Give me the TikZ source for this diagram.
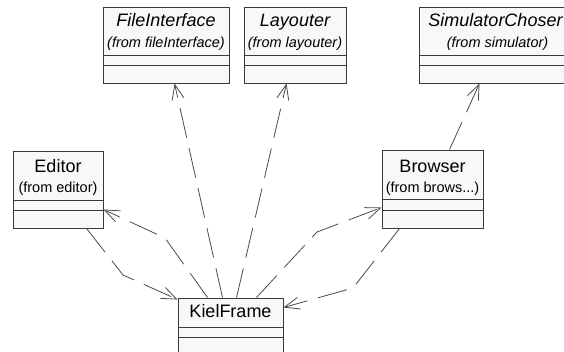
\documentclass[tikz,border=0pt]{standalone}
\usepackage{fontspec}
\setmainfont{Liberation Sans}
\usetikzlibrary{arrows.meta,calc}

\definecolor{boxfill}{HTML}{F8F8F8}
\definecolor{boxline}{HTML}{3A3A3A}
\definecolor{depline}{HTML}{4A4A4A}

\tikzset{
  classbox/.style={draw=boxline, fill=boxfill, line width=0.95pt, rectangle, inner sep=0pt},
  compline/.style={draw=boxline, line width=0.8pt},
  cname/.style={anchor=base, inner sep=0pt, font=\fontsize{18}{21}\selectfont},
  cnameit/.style={cname, font=\fontsize{18}{21}\selectfont\itshape},
  cfrom/.style={anchor=base, inner sep=0pt, font=\fontsize{14.5}{17}\selectfont},
  cfromit/.style={cfrom, font=\fontsize{14.5}{17}\selectfont\itshape},
  dep/.style={draw=depline, line width=0.8pt, dash pattern=on 30pt off 11pt,
    -{Straight Barb[length=15pt,width=12pt,line width=0.8pt]}}
}

\begin{document}
\begin{tikzpicture}[x=1pt, y=-1pt]
\useasboundingbox (0,0) rectangle (564,352);
\clip (0,0) rectangle (564,352);

% ---- classes (from other packages) ----
\node[classbox, minimum width=126pt, minimum height=76pt] (fileint) at (166,45) {};
\node[cnameit] (fileint-n) at ($(fileint.north)+(0,20)$) {FileInterface};
\node[cfromit] (fileint-p) at ($(fileint.north)+(0,41)$) {(from fileInterface)};
\draw[compline] ($(fileint.north west)+(0,49)$) -- ($(fileint.north east)+(0,49)$);
\draw[compline] ($(fileint.north west)+(0,59)$) -- ($(fileint.north east)+(0,59)$);

\node[classbox, minimum width=102pt, minimum height=76pt] (layouter) at (295,45) {};
\node[cnameit] (layouter-n) at ($(layouter.north)+(0,20)$) {Layouter};
\node[cfromit] (layouter-p) at ($(layouter.north)+(0,41)$) {(from layouter)};
\draw[compline] ($(layouter.north west)+(0,49)$) -- ($(layouter.north east)+(0,49)$);
\draw[compline] ($(layouter.north west)+(0,59)$) -- ($(layouter.north east)+(0,59)$);

\node[classbox, minimum width=157pt, minimum height=76pt] (simch) at (497.5,45) {};
\node[cnameit] (simch-n) at ($(simch.north)+(-2,20)$) {SimulatorChoser};
\node[cfromit] (simch-p) at ($(simch.north)+(0,41)$) {(from simulator)};
\draw[compline] ($(simch.north west)+(0,49)$) -- ($(simch.north east)+(0,49)$);
\draw[compline] ($(simch.north west)+(0,59)$) -- ($(simch.north east)+(0,59)$);

\node[classbox, minimum width=90pt, minimum height=77pt] (editor) at (58,189.5) {};
\node[cname] (editor-n) at ($(editor.north)+(0,22)$) {Editor};
\node[cfrom] (editor-p) at ($(editor.north)+(0,42)$) {(from editor)};
\draw[compline] ($(editor.north west)+(0,50)$) -- ($(editor.north east)+(0,50)$);
\draw[compline] ($(editor.north west)+(0,60)$) -- ($(editor.north east)+(0,60)$);

\node[classbox, minimum width=101pt, minimum height=78pt] (browser) at (432.5,189) {};
\node[cname] (browser-n) at ($(browser.north)+(0,23)$) {Browser};
\node[cfrom] (browser-p) at ($(browser.north)+(0,43)$) {(from brows...)};
\draw[compline] ($(browser.north west)+(0,50)$) -- ($(browser.north east)+(0,50)$);
\draw[compline] ($(browser.north west)+(0,61)$) -- ($(browser.north east)+(0,61)$);

% ---- main frame ----
\node[classbox, minimum width=105pt, minimum height=70pt] (kiel) at (230.5,333) {};
\node[cname] (kiel-n) at ($(kiel.north)+(0,20)$) {KielFrame};
\draw[compline] ($(kiel.north west)+(0,30)$) -- ($(kiel.north east)+(0,30)$);
\draw[compline] ($(kiel.north west)+(0,40)$) -- ($(kiel.north east)+(0,40)$);

% ---- bend points of the dependencies ----
\coordinate (bendEK) at (123,275);
\coordinate (bendKE) at (165,238);
\coordinate (bendKB) at (317,232);
\coordinate (bendBK) at (353,288);

% ---- dependencies ----
\draw[dep] ($(kiel.north west)+(45,0)$) -- ($(fileint.south west)+(72,0)$);
\draw[dep] ($(kiel.north west)+(59,0)$) -- ($(layouter.south west)+(43,0)$);
\draw[dep] ($(kiel.north west)+(30,0)$) -- (bendKE) -- ($(editor.north east)+(0,59)$);
\draw[dep] ($(kiel.north west)+(79,0)$) -- (bendKB) -- ($(browser.north west)+(0,58)$);
\draw[dep] ($(editor.south west)+(74,0)$) -- (bendEK) -- ($(kiel.north west)+(0,2)$);
\draw[dep] ($(browser.south west)+(18,0)$) -- (bendBK) -- ($(kiel.north east)+(0,10)$);
\draw[dep] ($(browser.north west)+(68,0)$) -- ($(simch.south west)+(61,0)$);
\end{tikzpicture}
\end{document}
